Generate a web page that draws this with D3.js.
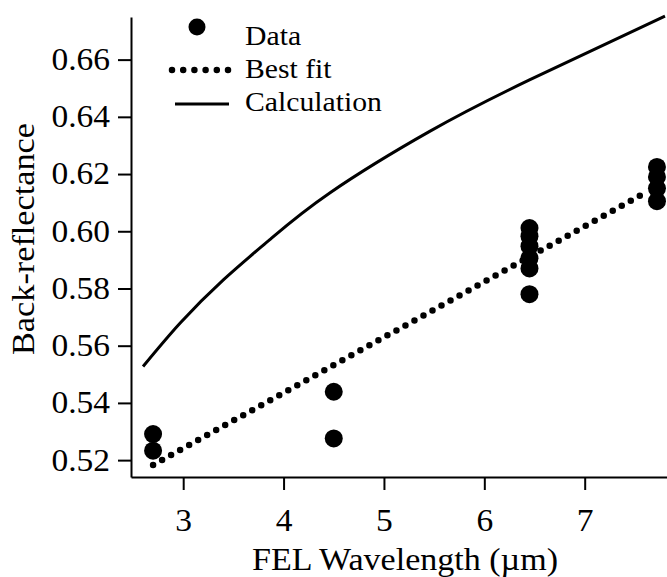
<!DOCTYPE html>
<html>
<head>
<meta charset="utf-8">
<script src="https://cdn.jsdelivr.net/npm/d3@7"></script>
<style>
  body { margin: 0; background: #fff; }
  text { font-family: "Liberation Serif", "Times New Roman", serif; fill: #000; }
</style>
</head>
<body>
<svg id="chart" width="667" height="577"></svg>
<script>
// measured data (wavelength in um, back-reflectance)
const dataX = [2.7, 2.7, 4.5, 4.5, 6.45, 6.45, 6.45, 6.45, 6.45, 6.45, 7.72, 7.72, 7.72, 7.72]
const dataY = [0.5291, 0.5233, 0.5439, 0.5276, 0.6011, 0.5983, 0.5948, 0.5906, 0.5870, 0.5780, 0.6225, 0.6190, 0.6150, 0.6105]

// best fit line end points
const fitX = [2.7, 7.6]
const fitY = [0.5183, 0.6134]

// calculation curve
const calcX = [2.6, 2.97, 3.4, 3.86, 4.46, 5.46, 6.45, 7.8]
const calcY = [0.5527, 0.5679, 0.583, 0.597, 0.6134, 0.635, 0.6529, 0.6752]

const xTicks = [3, 4, 5, 6, 7]
const yTicks = [0.52, 0.54, 0.56, 0.58, 0.60, 0.62, 0.64, 0.66]

const legendLabels = ['Data', 'Best fit', 'Calculation']

const svg = d3.select('#chart')

const plotLeft = 131, plotRight = 667, plotTop = 17, plotBottom = 477

const x = d3.scaleLinear().domain([2.48, 7.82]).range([plotLeft, plotRight])
const y = d3.scaleLinear().domain([0.5141, 0.6749]).range([plotBottom, plotTop])

// the original serif is a little wider than Liberation Serif
function widen(sel, k) {
    sel.each(function () {
        const w = this.getComputedTextLength()
        d3.select(this).attr('textLength', w * k).attr('lengthAdjust', 'spacingAndGlyphs')
    })
}

// axes
svg.append('g')
    .attr('transform', 'translate(0,' + plotBottom + ')')
    .call(d3.axisBottom(x).tickValues(xTicks).tickFormat(d3.format('d'))
        .tickSize(13).tickSizeOuter(0).tickPadding(19))
svg.append('g')
    .attr('transform', 'translate(' + plotLeft + ',0)')
    .call(d3.axisLeft(y).tickValues(yTicks).tickFormat(d3.format('.2f'))
        .tickSize(13).tickSizeOuter(0).tickPadding(8))

svg.selectAll('.domain, .tick line').attr('stroke', '#000').attr('stroke-width', 2)
svg.selectAll('.tick text').attr('font-size', '31px').attr('font-family', '"Liberation Serif", serif')
widen(svg.selectAll('.tick text'), 1.08)

// axis titles
svg.append('text')
    .attr('x', 405).attr('y', 570)
    .attr('text-anchor', 'middle')
    .attr('font-size', '31px')
    .attr('textLength', 306).attr('lengthAdjust', 'spacingAndGlyphs')
    .text('FEL Wavelength (\u00b5m)')

svg.append('text')
    .attr('transform', 'translate(34,239) rotate(-90)')
    .attr('text-anchor', 'middle')
    .attr('font-size', '31px')
    .attr('textLength', 232).attr('lengthAdjust', 'spacingAndGlyphs')
    .text('Back-reflectance')

// calculation curve
const calc = calcX.map((d, i) => [d, calcY[i]])
svg.append('path')
    .datum(calc)
    .attr('fill', 'none')
    .attr('stroke', '#000')
    .attr('stroke-width', 3)
    .attr('d', d3.line().x(d => x(d[0])).y(d => y(d[1])).curve(d3.curveNatural))

// best fit (dotted)
const fit = fitX.map((d, i) => [d, fitY[i]])
svg.append('path')
    .datum(fit)
    .attr('fill', 'none')
    .attr('stroke', '#000')
    .attr('stroke-width', 6.5)
    .attr('stroke-linecap', 'round')
    .attr('stroke-dasharray', '0 10.3')
    .attr('d', d3.line().x(d => x(d[0])).y(d => y(d[1])))

// data points
svg.selectAll('circle.pt')
    .data(dataX.map((d, i) => [d, dataY[i]]))
    .enter().append('circle')
    .attr('class', 'pt')
    .attr('cx', d => x(d[0]))
    .attr('cy', d => y(d[1]))
    .attr('r', 9)
    .attr('fill', '#000')

// legend
const lg = svg.append('g')
lg.append('circle').attr('cx', 197).attr('cy', 27).attr('r', 8.5).attr('fill', '#000')
lg.append('line')
    .attr('x1', 172).attr('x2', 228).attr('y1', 70).attr('y2', 70)
    .attr('stroke', '#000').attr('stroke-width', 6.5)
    .attr('stroke-linecap', 'round').attr('stroke-dasharray', '0 11.2')
lg.append('line')
    .attr('x1', 175).attr('x2', 229).attr('y1', 104).attr('y2', 104)
    .attr('stroke', '#000').attr('stroke-width', 3)
const lgText = lg.selectAll('text')
    .data(legendLabels)
    .enter().append('text')
    .attr('x', 245)
    .attr('y', (d, i) => 45 + i * 33)
    .attr('font-size', '27px')
    .text(d => d)
widen(lgText, 1.1)
</script>
</body>
</html>
